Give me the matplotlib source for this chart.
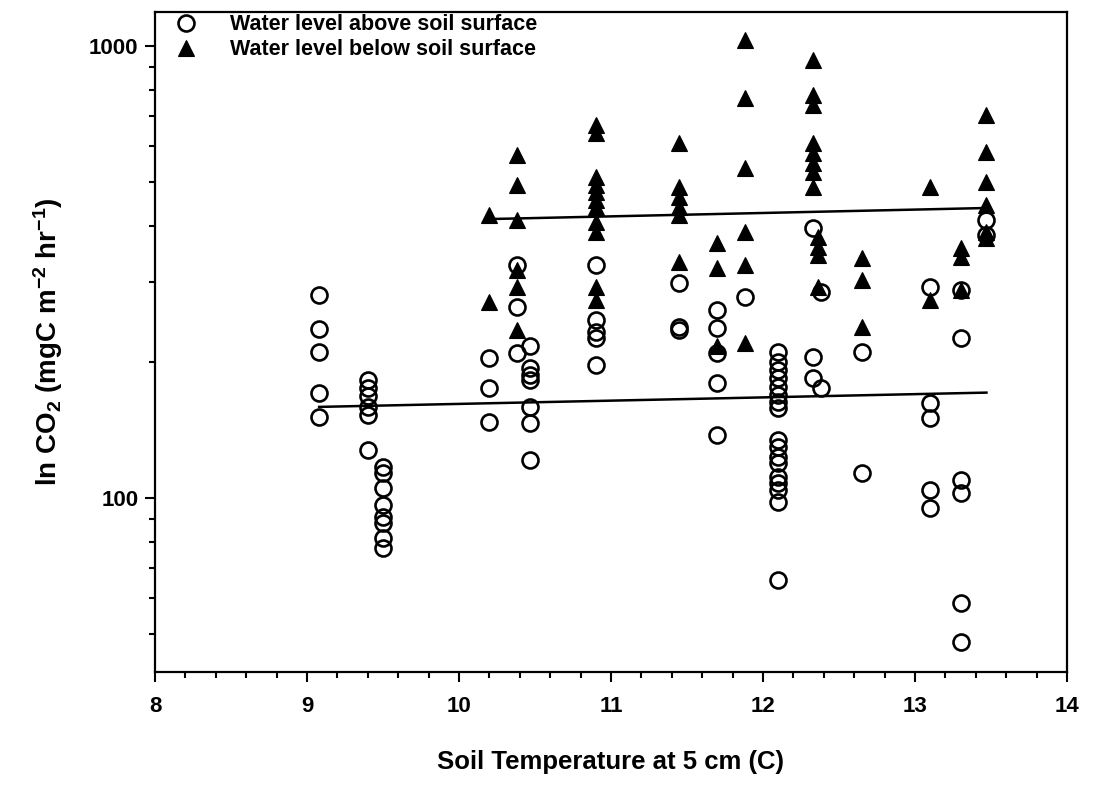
"""Soil CO2 flux vs. soil temperature, split by water level."""

import matplotlib

matplotlib.use("Agg")
import matplotlib.pyplot as plt
from matplotlib.ticker import FixedLocator, MultipleLocator, NullFormatter, FuncFormatter


# water level above soil surface (open circles)
above_t = (
    [9.08] * 5
    + [9.4] * 6
    + [9.5] * 8
    + [10.2] * 3
    + [10.38] * 3
    + [10.47] * 7
    + [10.9] * 5
    + [11.45] * 3
    + [11.7] * 5
    + [11.88]
    + [12.1] * 17
    + [12.33] * 3
    + [12.38] * 2
    + [12.65] * 2
    + [13.1] * 5
    + [13.3] * 6
    + [13.47] * 2
)
above_co2 = [
    281.3, 236.6, 210.4, 170.8, 151.1,
    182.4, 175.1, 168.1, 159.0, 152.6, 127.7,
    117.1, 113.6, 105.2, 96.5, 90.8, 88.0, 81.6, 77.5,
    204.0, 175.1, 147.3,
    327.8, 264.6, 209.3,
    216.9, 193.9, 187.1, 182.4, 159.0, 146.6, 121.4,
    327.8, 247.7, 232.9, 225.9, 196.9,
    299.0, 238.9, 235.3,
    260.6, 237.8, 209.3, 179.6, 137.9,
    278.4,
    210.4, 199.9, 191.9, 184.3, 176.0, 169.0, 163.1, 158.2,
    134.4, 129.7, 123.2, 119.5, 111.3, 107.9, 104.2, 98.0, 65.9,
    395.7, 205.1, 184.3,
    285.6, 175.1,
    210.4, 113.6,
    293.0, 162.3, 150.3, 104.2, 95.0,
    288.5, 225.9, 109.6, 102.6, 58.6, 48.0,
    412.1, 381.9,
]

# water level below soil surface (filled triangles)
below_t = (
    [10.2] * 2
    + [10.38] * 6
    + [10.9] * 11
    + [11.45] * 6
    + [11.7] * 3
    + [11.88] * 6
    + [12.33] * 8
    + [12.36] * 4
    + [12.65] * 3
    + [13.1] * 2
    + [13.3] * 3
    + [13.47] * 6
)
below_co2 = [
    422.8, 271.4,
    573.9, 492.6, 412.1, 319.5, 293.0, 235.3,
    668.7, 642.0, 513.1, 492.6, 475.3, 456.3, 440.4, 408.0, 387.7, 293.0, 274.2,
    610.2, 487.6, 463.4, 440.4, 422.8, 332.8,
    366.6, 322.8, 216.9,
    1031.0, 767.3, 537.2, 387.7, 327.8, 220.2,
    931.1, 779.0, 740.4, 610.2, 579.8, 551.0, 526.3, 487.6,
    378.0, 359.2, 344.9, 293.0,
    339.6, 303.6, 238.9,
    487.6, 274.2,
    357.4, 341.4, 288.5,
    703.6, 582.7, 500.2, 444.9, 387.7, 376.1,
]

# fitted lines (end points)
fit_above_t = [9.08, 13.47]
fit_above_co2 = [159.0, 171.0]
fit_below_t = [10.2, 13.47]
fit_below_co2 = [414.0, 438.0]

FONT = "Liberation Sans"


def main():
    plt.rcParams["font.family"] = [FONT, "DejaVu Sans"]
    plt.rcParams["font.weight"] = "bold"
    plt.rcParams["mathtext.fontset"] = "custom"
    plt.rcParams["mathtext.rm"] = f"{FONT}:bold"
    plt.rcParams["mathtext.it"] = f"{FONT}:bold"
    plt.rcParams["mathtext.bf"] = f"{FONT}:bold"

    fig = plt.figure(figsize=(10.93, 7.94), dpi=100)
    ax = fig.add_axes([0.1418, 0.1537, 0.8344, 0.8312])

    ax.plot(above_t, above_co2, ls="none", marker="o", ms=11.5, mfc="none",
            mec="black", mew=1.9, label="Water level above soil surface", zorder=3)
    ax.plot(below_t, below_co2, ls="none", marker="^", ms=12, mfc="black",
            mec="black", mew=0.8, label="Water level below soil surface", zorder=4)
    ax.plot(fit_above_t, fit_above_co2, color="black", lw=1.8, zorder=2)
    ax.plot(fit_below_t, fit_below_co2, color="black", lw=1.8, zorder=2)

    ax.set_yscale("log")
    ax.set_xlim(8, 14)
    ax.set_ylim(41.2, 1189)

    ax.xaxis.set_major_locator(MultipleLocator(1))
    ax.xaxis.set_minor_locator(MultipleLocator(0.2))
    ax.yaxis.set_major_locator(FixedLocator([100, 1000]))
    ax.yaxis.set_major_formatter(FuncFormatter(lambda v, _: f"{v:.0f}"))
    ax.yaxis.set_minor_formatter(NullFormatter())

    ax.tick_params(which="both", direction="out", width=1.5, labelsize=16)
    ax.tick_params(which="major", length=7)
    ax.tick_params(axis="x", which="major", pad=10)
    ax.tick_params(axis="y", which="major", pad=5)
    ax.tick_params(which="minor", length=4)
    for side in ("left", "right", "top", "bottom"):
        ax.spines[side].set_linewidth(1.6)

    ax.set_xlabel("Soil Temperature at 5 cm (C)", fontsize=18.5, fontweight="bold", labelpad=24)
    ax.set_ylabel(r"ln CO$_2$ (mgC m$^{-2}$ hr$^{-1}$)", fontsize=20, fontweight="bold", labelpad=17)

    ax.legend(loc="upper left", frameon=False, fontsize=15.5, handletextpad=1.4,
              borderaxespad=0.0, borderpad=0.1, labelspacing=0.2, handlelength=1.3,
              bbox_to_anchor=(0.016, 1.0))

    fig.savefig("out.png", dpi=100)
    plt.close(fig)


if __name__ == "__main__":
    main()
